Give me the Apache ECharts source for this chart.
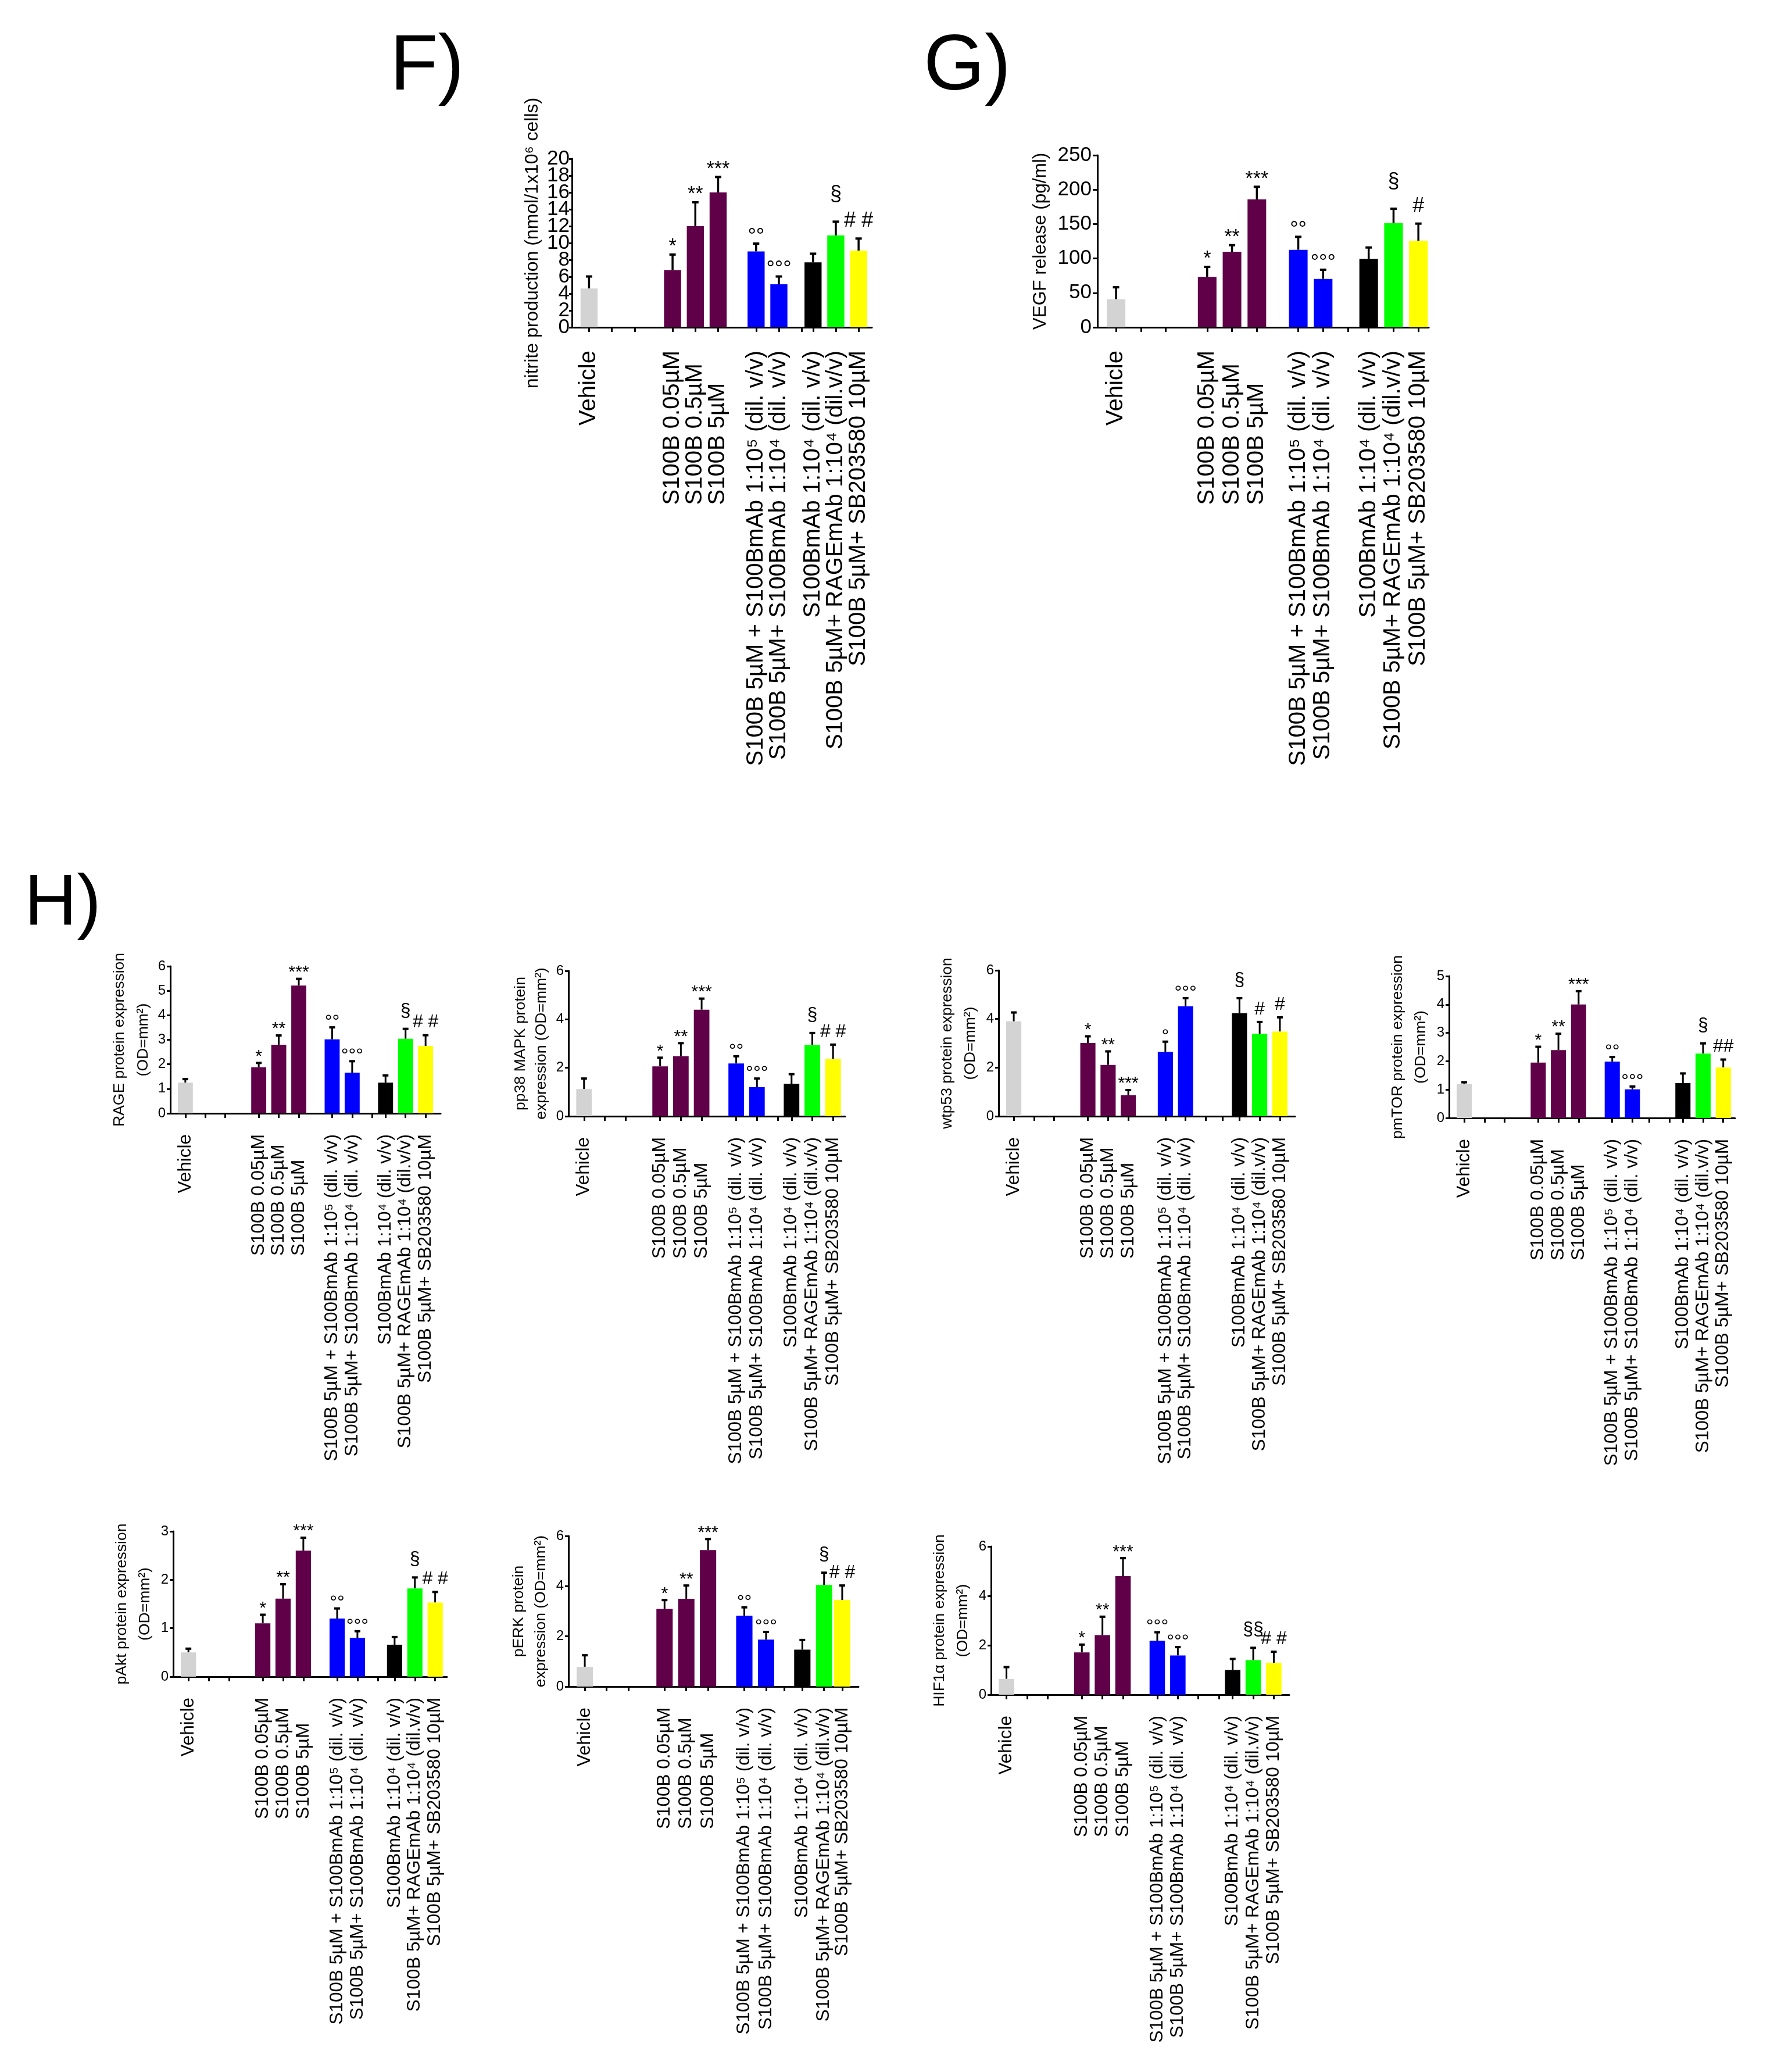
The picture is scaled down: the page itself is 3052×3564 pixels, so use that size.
<!DOCTYPE html>
<html><head><meta charset="utf-8">
<script src="https://cdn.jsdelivr.net/npm/echarts@6/dist/echarts.min.js"></script>
<style>html,body{margin:0;padding:0;background:#fff}#c{width:3052px;height:3564px}</style>
</head><body><div id="c"></div>
<script>
// ---------------- DATA ----------------
const groupNames = [
  'Vehicle',
  'S100B 0.05µM',
  'S100B 0.5µM',
  'S100B 5µM',
  'S100B 5µM + S100BmAb 1:10⁵ (dil. v/v)',
  'S100B 5µM+ S100BmAb 1:10⁴ (dil. v/v)',
  'S100BmAb 1:10⁴ (dil. v/v)',
  'S100B 5µM+ RAGEmAb 1:10⁴ (dil.v/v)',
  'S100B 5µM+ SB203580 10µM'
];

const nitriteMean  = [4.6, 6.8, 12.0, 16.0, 9.0, 5.1, 7.7, 10.9, 9.1];
const nitriteSem   = [1.5, 1.9, 2.9, 1.9, 1.0, 1.0, 1.1, 1.7, 1.5];
const nitriteMarks = ['', '*', '**', '***', '°°', '°°°', '', '§', '# #'];
const nitriteTicks = [0, 2, 4, 6, 8, 10, 12, 14, 16, 18, 20];

const vegfMean  = [40.8, 73.2, 109.8, 185.8, 112.6, 70.4, 99.4, 151.2, 125.8];
const vegfSem   = [18.2, 15.5, 10.4, 19.2, 19.7, 14.1, 17.4, 21.9, 25.7];
const vegfMarks = ['', '*', '**', '***', '°°', '°°°', '', '§', '#'];
const vegfTicks = [0, 50, 100, 150, 200, 250];

const rageMean  = [1.25, 1.88, 2.80, 5.21, 3.02, 1.66, 1.25, 3.04, 2.75];
const rageSem   = [0.17, 0.20, 0.40, 0.30, 0.51, 0.49, 0.32, 0.43, 0.46];
const rageMarks = ['', '*', '**', '***', '°°', '°°°', '', '§', '# #'];
const rageTicks = [0, 1, 2, 3, 4, 5, 6];

const p38Mean  = [1.12, 2.06, 2.48, 4.40, 2.18, 1.20, 1.34, 2.94, 2.36];
const p38Sem   = [0.46, 0.38, 0.56, 0.48, 0.32, 0.38, 0.42, 0.52, 0.62];
const p38Marks = ['', '*', '**', '***', '°°', '°°°', '', '§', '# #'];
const p38Ticks = [0, 2, 4, 6];

const p53Mean  = [3.90, 3.01, 2.11, 0.86, 2.65, 4.52, 4.24, 3.39, 3.48];
const p53Sem   = [0.39, 0.30, 0.58, 0.24, 0.44, 0.36, 0.64, 0.51, 0.61];
const p53Marks = ['', '*', '**', '***', '°', '°°°', '§', '#', '#'];
const p53Ticks = [0, 2, 4, 6];

const mtorMean  = [1.20, 1.95, 2.39, 4.00, 1.99, 1.01, 1.23, 2.27, 1.78];
const mtorSem   = [0.08, 0.58, 0.60, 0.49, 0.18, 0.12, 0.36, 0.38, 0.30];
const mtorMarks = ['', '*', '**', '***', '°°', '°°°', '', '§', '##'];
const mtorTicks = [0, 1, 2, 3, 4, 5];

const aktMean  = [0.50, 1.10, 1.61, 2.60, 1.20, 0.80, 0.66, 1.82, 1.53];
const aktSem   = [0.09, 0.19, 0.31, 0.28, 0.22, 0.15, 0.17, 0.24, 0.23];
const aktMarks = ['', '*', '**', '***', '°°', '°°°', '', '§', '# #'];
const aktTicks = [0, 1, 2, 3];

const erkMean  = [0.79, 3.09, 3.50, 5.44, 2.82, 1.87, 1.47, 4.05, 3.45];
const erkSem   = [0.48, 0.38, 0.55, 0.46, 0.36, 0.33, 0.41, 0.51, 0.60];
const erkMarks = ['', '*', '**', '***', '°°', '°°°', '', '§', '# #'];
const erkTicks = [0, 2, 4, 6];

const hifMean  = [0.64, 1.71, 2.41, 4.80, 2.18, 1.59, 1.00, 1.40, 1.29];
const hifSem   = [0.50, 0.34, 0.77, 0.75, 0.37, 0.36, 0.47, 0.52, 0.47];
const hifMarks = ['', '*', '**', '***', '°°°', '°°°', '', '§§', '# #'];
const hifTicks = [0, 2, 4, 6];

// ---------------- STYLE / LAYOUT ----------------
const barColors = ['#d3d3d3', '#600048', '#600048', '#600048', '#0000ff', '#0000ff', '#000000', '#00ff00', '#ffff00'];
const startAligned = [1, 2, 3];  // label block aligned at its start
const FONT = '"Liberation Sans", Arial, Helvetica, sans-serif';

const sizes = {
  big:   { label: 40, labelMargin: 40, tick: 35, mark: 36, capW: 11, capH: 4, errW: 3.5,
           off: { '*': 12, '°': 10, '§': 45, '#': 29 } },
  small: { label: 31.5, labelMargin: 36, tick: 24, mark: 32, capW: 10, capH: 4, errW: 3,
           off: { '*': 10, '°': 8, '§': 30, '#': 21 } }
};

const panels = [
  { mean: nitriteMean, sem: nitriteSem, marks: nitriteMarks, ticks: nitriteTicks,
    title: 'nitrite production (nmol/1x10⁶ cells)', size: 'big', titleSize: 32, lh: 40, nameGap: 48,
    tickMargin: 4, tickLen: 5, dense: true,
    box: { left: 984, top: 273, width: 516, height: 290 }, units: 79,
    slots: [0, 22, 28, 34, 44, 50, 59, 65, 71], emptyTicks: [6, 12, 56] },
  { mean: vegfMean, sem: vegfSem, marks: vegfMarks, ticks: vegfTicks,
    title: 'VEGF release (pg/ml)', size: 'big', titleSize: 31.5, lh: 40, nameGap: 78,
    tickMargin: 10, tickLen: 8,
    box: { left: 1888, top: 267, width: 570, height: 296 }, units: 80,
    slots: [0, 22, 28, 34, 44, 50, 61, 67, 73], emptyTicks: [6, 12, 56] },
  { mean: rageMean, sem: rageSem, marks: rageMarks, ticks: rageTicks,
    title: 'RAGE protein expression\n(OD=mm²)', size: 'small', titleSize: 26.5, lh: 41, nameGap: 26,
    tickMargin: 8, tickLen: 6,
    box: { left: 293, top: 1662, width: 465, height: 253 }, units: 81,
    slots: [0, 22, 28, 34, 44, 50, 60, 66, 72], emptyTicks: [6, 12, 56] },
  { mean: p38Mean, sem: p38Sem, marks: p38Marks, ticks: p38Ticks,
    title: 'pp38 MAPK protein\nexpression (OD=mm²)', size: 'small', titleSize: 26.5, lh: 36, nameGap: 28,
    tickMargin: 8, tickLen: 6,
    box: { left: 978, top: 1670, width: 476, height: 250 }, units: 80,
    slots: [0, 22, 28, 34, 44, 50, 60, 66, 72], emptyTicks: [6, 12, 56] },
  { mean: p53Mean, sem: p53Sem, marks: p53Marks, ticks: p53Ticks,
    title: 'wtp53 protein expression\n(OD=mm²)', size: 'small', titleSize: 26.5, lh: 40, nameGap: 28,
    tickMargin: 8, tickLen: 6,
    box: { left: 1718, top: 1669, width: 510, height: 251 }, units: 88,
    slots: [0, 22, 28, 34, 45, 51, 67, 73, 79], emptyTicks: [6, 12, 57, 62] },
  { mean: mtorMean, sem: mtorSem, marks: mtorMarks, ticks: mtorTicks,
    title: 'pmTOR protein expression\n(OD=mm²)', size: 'small', titleSize: 26.5, lh: 40, nameGap: 28,
    tickMargin: 8, tickLen: 6,
    box: { left: 2493, top: 1679, width: 492, height: 244 }, units: 85,
    slots: [0, 22, 28, 34, 44, 50, 65, 71, 77], emptyTicks: [6, 12, 55, 61] },
  { mean: aktMean, sem: aktSem, marks: aktMarks, ticks: aktTicks,
    title: 'pAkt protein expression\n(OD=mm²)', size: 'small', titleSize: 26.5, lh: 40, nameGap: 28,
    tickMargin: 8, tickLen: 6,
    box: { left: 298, top: 2634, width: 471, height: 250 }, units: 81,
    slots: [0, 22, 28, 34, 44, 50, 61, 67, 73], emptyTicks: [6, 12, 56] },
  { mean: erkMean, sem: erkSem, marks: erkMarks, ticks: erkTicks,
    title: 'pERK protein\nexpression (OD=mm²)', size: 'small', titleSize: 26.5, lh: 38, nameGap: 28,
    tickMargin: 8, tickLen: 6,
    box: { left: 978, top: 2642, width: 499, height: 259 }, units: 80,
    slots: [0, 22, 28, 34, 44, 50, 60, 66, 71], emptyTicks: [6, 12, 55] },
  { mean: hifMean, sem: hifSem, marks: hifMarks, ticks: hifTicks,
    title: 'HIF1α protein expression\n(OD=mm²)', size: 'small', titleSize: 26.5, lh: 40, nameGap: 28,
    tickMargin: 8, tickLen: 6,
    box: { left: 1705, top: 2660, width: 513, height: 255 }, units: 87,
    slots: [0, 22, 28, 34, 44, 50, 66, 72, 78], emptyTicks: [6, 12, 56, 62] }
];

const panelLetters = [
  { text: 'F)', left: 671, top: 49, size: 135 },
  { text: 'G)', left: 1589, top: 49, size: 135 },
  { text: 'H)', left: 42, top: 1494, size: 125 }
];

// ---------------- BUILD ----------------
const OFFSET = 4; // first category slot
const mctx = document.createElement('canvas').getContext('2d');
function textWidth(str, fs) { mctx.font = fs + 'px ' + FONT; return mctx.measureText(str).width; }

const grid = [], xAxis = [], yAxis = [], series = [], extraY = [];

panels.forEach((p, i) => {
  const S = sizes[p.size];
  const unit = p.box.width / p.units;
  const cats = new Array(p.units).fill('');
  const slotToGroup = {};
  p.slots.forEach((s, k) => { cats[s + OFFSET] = groupNames[k]; slotToGroup[s + OFFSET] = k; });
  const tickSet = new Set(p.slots.concat(p.emptyTicks).map(s => s + OFFSET));
  const blockW = Math.max.apply(null, startAligned.map(k => textWidth(groupNames[k], S.label)));

  grid.push(Object.assign({ containLabel: false }, p.box));
  xAxis.push({
    gridIndex: i, type: 'category', data: cats, boundaryGap: true,
    axisLine: { show: true, lineStyle: { color: '#000', width: 3 } },
    axisTick: { show: true, alignWithLabel: true, length: 8, interval: (idx) => tickSet.has(idx),
                lineStyle: { color: '#000', width: 3 } },
    axisLabel: {
      interval: 0, rotate: 90, margin: S.labelMargin, fontSize: S.label, fontFamily: FONT, color: '#000',
      formatter: (value, idx) => {
        const k = slotToGroup[idx];
        if (k === undefined) return '';
        return startAligned.indexOf(k) >= 0 ? '{lf|' + value + '}' : value;
      },
      rich: { lf: { width: blockW, align: 'left', fontSize: S.label, fontFamily: FONT, color: '#000' } }
    },
    splitLine: { show: false }
  });
  const tmin = p.ticks[0], tmax = p.ticks[p.ticks.length - 1];
  const yLabelStyle = { fontSize: S.tick, fontFamily: FONT, color: '#000', margin: p.tickMargin };
  yAxis.push({
    gridIndex: i, type: 'value', min: tmin, max: tmax, interval: p.ticks[1] - p.ticks[0],
    axisLine: { show: true, lineStyle: { color: '#000', width: 3 } },
    axisTick: { show: true, length: p.tickLen, lineStyle: { color: '#000', width: 3 } },
    axisLabel: p.dense ? { show: false } :
      Object.assign({ showMinLabel: true, showMaxLabel: true }, yLabelStyle),
    splitLine: { show: false },
    name: p.title, nameLocation: 'middle', nameGap: p.nameGap,
    nameTextStyle: { fontSize: p.titleSize, fontFamily: FONT, color: '#000', lineHeight: p.lh, align: 'center' }
  });
  if (p.dense) {
    // densely packed tick labels: evenly spaced label axis so none are dropped
    extraY.push({
      gridIndex: i, type: 'category', position: 'left', boundaryGap: false,
      data: p.ticks.map(String),
      axisLine: { show: false }, axisTick: { show: false }, splitLine: { show: false },
      axisLabel: Object.assign({ interval: 0 }, yLabelStyle)
    });
  }

  series.push({
    type: 'bar', xAxisIndex: i, yAxisIndex: i, barWidth: unit * 4.5, silent: true,
    data: p.mean.map((v, k) => ({ value: [p.slots[k] + OFFSET, v], itemStyle: { color: barColors[k] } }))
  });
  series.push({
    type: 'custom', xAxisIndex: i, yAxisIndex: i, silent: true,
    data: p.mean.map((v, k) => [p.slots[k] + OFFSET, v, v + p.sem[k]]),
    renderItem: (params, api) => {
      const b = api.coord([api.value(0), api.value(1)]);
      const t = api.coord([api.value(0), api.value(2)]);
      return { type: 'group', children: [
        { type: 'line', shape: { x1: b[0], y1: b[1], x2: t[0], y2: t[1] }, style: { stroke: '#000', lineWidth: S.errW } },
        { type: 'rect', shape: { x: t[0] - S.capW / 2, y: t[1] - 1, width: S.capW, height: S.capH }, style: { fill: '#000' } }
      ] };
    }
  });
  series.push({
    type: 'custom', xAxisIndex: i, yAxisIndex: i, silent: true,
    data: p.mean.map((v, k) => [p.slots[k] + OFFSET, v + p.sem[k], k]),
    renderItem: (params, api) => {
      const k = api.value(2);
      const m = p.marks[k];
      if (!m) return null;
      const t = api.coord([api.value(0), api.value(1)]);
      const off = S.off[m.charAt(0)] || 12;
      const fs = (m.charAt(0) === '*') ? S.mark * 0.95 : S.mark;
      return { type: 'text', x: t[0], y: t[1] - off,
        style: { text: m, fontSize: fs, fontFamily: FONT, fill: '#000', align: 'center', verticalAlign: 'middle' } };
    }
  });
});

const chart = echarts.init(document.getElementById('c'), null, { renderer: 'canvas', width: 3052, height: 3564 });
chart.setOption({
  backgroundColor: '#fff',
  animation: false,
  title: panelLetters.map(L => ({ text: L.text, left: L.left, top: L.top, padding: 0,
    textStyle: { fontSize: L.size, fontWeight: 'normal', fontFamily: FONT, color: '#000' } })),
  grid, xAxis, yAxis: yAxis.concat(extraY), series
});
</script>
</body></html>
